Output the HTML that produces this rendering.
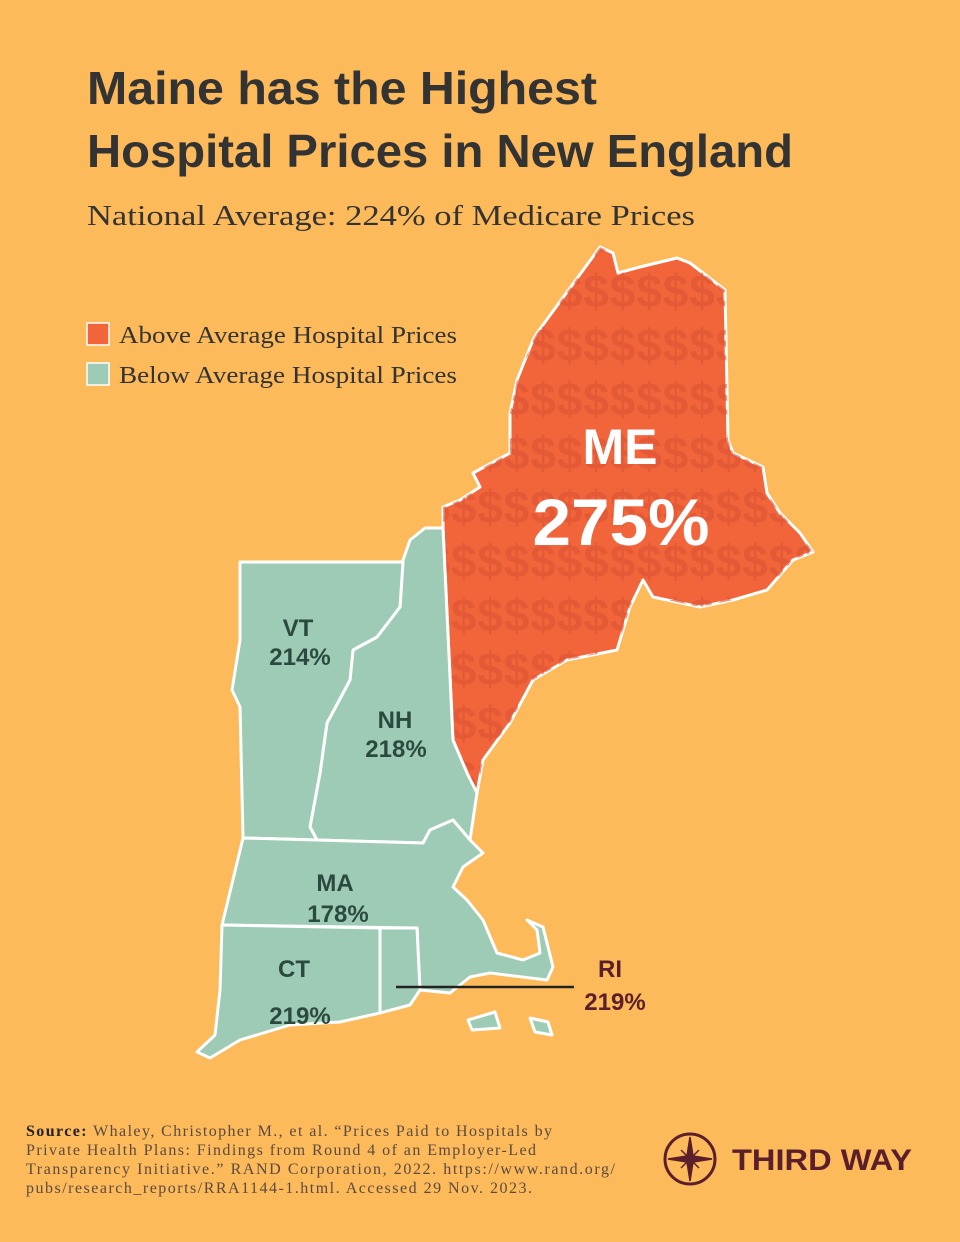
<!DOCTYPE html>
<html><head><meta charset="utf-8"><style>
body{margin:0;}
#c{position:relative;width:960px;height:1242px;background:#FDBA5A;overflow:hidden;font-family:"Liberation Sans",sans-serif;}
</style></head><body><div id="c">
<svg width="960" height="1242" style="position:absolute;left:0;top:0">
<defs>
<pattern id="d" x="0" y="262" width="26.5" height="54" patternUnits="userSpaceOnUse">
<text x="13" y="45" font-family="Liberation Sans" font-weight="bold" font-size="46" fill="#DC5434" text-anchor="middle">$</text>
</pattern>
</defs>
<text x="87" y="104" font-family="Liberation Sans" font-weight="bold" font-size="46" fill="#333" textLength="510" lengthAdjust="spacingAndGlyphs">Maine has the Highest</text>
<text x="87" y="167" font-family="Liberation Sans" font-weight="bold" font-size="46" fill="#333" textLength="706" lengthAdjust="spacingAndGlyphs">Hospital Prices in New England</text>
<text x="87" y="225" font-family="Liberation Serif" font-size="29" fill="#333" textLength="608" lengthAdjust="spacingAndGlyphs">National Average: 224% of Medicare Prices</text>
<rect x="87" y="323" width="22" height="22" fill="#F2643A" stroke="#fff" stroke-width="1.5"/>
<text x="119" y="343" font-family="Liberation Serif" font-size="24" fill="#333" textLength="338" lengthAdjust="spacingAndGlyphs">Above Average Hospital Prices</text>
<rect x="87" y="363" width="22" height="22" fill="#9ECBB5" stroke="#fff" stroke-width="1.5"/>
<text x="119" y="383" font-family="Liberation Serif" font-size="24" fill="#333" textLength="338" lengthAdjust="spacingAndGlyphs">Below Average Hospital Prices</text>
<g stroke="#fff" stroke-width="3" stroke-linejoin="round">
<path d="M600,247 L613,253 L618,273 L640,267 L677,258 L690,263 L725,290 L728,440 L733,453 L763,467 L767,493 L780,513 L800,533 L813,552 L793,560 L767,590 L733,600 L700,607 L653,597 L643,580 L630,607 L617,650 L567,660 L533,680 L510,723 L483,760 L477,793 L467,773 L453,740 L443,528 L443,507 L460,500 L480,487 L473,473 L510,453 L510,413 L517,380 L533,340 L537,333 Z" fill="#F2643A"/>
<path d="M600,247 L613,253 L618,273 L640,267 L677,258 L690,263 L725,290 L728,440 L733,453 L763,467 L767,493 L780,513 L800,533 L813,552 L793,560 L767,590 L733,600 L700,607 L653,597 L643,580 L630,607 L617,650 L567,660 L533,680 L510,723 L483,760 L477,793 L467,773 L453,740 L443,528 L443,507 L460,500 L480,487 L473,473 L510,453 L510,413 L517,380 L533,340 L537,333 Z" fill="url(#d)" stroke="none" opacity="0.6"/>
<path d="M443,528 L453,740 L467,773 L477,793 L470,840 L453,820 L430,830 L423,843 L317,840 L310,827 L320,773 L327,723 L350,680 L353,650 L377,637 L400,607 L403,560 L410,540 L425,528 Z" fill="#9ECBB5"/>
<path d="M240,562 L403,562 L400,607 L377,637 L353,650 L350,680 L327,723 L320,773 L310,827 L317,840 L243,838 L240,707 L232,690 L240,640 Z" fill="#9ECBB5"/>
<path d="M243,838 L317,840 L423,843 L430,830 L453,820 L470,840 L483,853 L463,867 L453,887 L467,900 L483,920 L497,953 L523,960 L540,953 L537,930 L527,920 L543,927 L553,967 L547,980 L490,973 L470,977 L450,993 L420,990 L417,928 L222,925 Z" fill="#9ECBB5"/>
<path d="M380,928 L417,928 L420,990 L410,1005 L380,1013 Z" fill="#9ECBB5"/>
<path d="M222,925 L380,928 L380,1013 L340,1022 L290,1025 L240,1040 L210,1058 L197,1052 L215,1035 L220,990 Z" fill="#9ECBB5"/>
<path d="M468,1020 L495,1012 L500,1028 L472,1030 Z M530,1018 L548,1022 L552,1035 L535,1032 Z" fill="#9ECBB5"/>
</g>
<line x1="396" y1="987" x2="574" y2="987" stroke="#222" stroke-width="2.5"/>
<g font-family="Liberation Sans" font-weight="bold" text-anchor="middle">
<text x="620" y="464" font-size="50" fill="#fff">ME</text>
<text x="621" y="545" font-size="66" fill="#fff" textLength="177" lengthAdjust="spacingAndGlyphs">275%</text>
<g fill="#2B4A3F" font-size="24">
<text x="298" y="636">VT</text><text x="300" y="665">214%</text>
<text x="395" y="728">NH</text><text x="396" y="757">218%</text>
<text x="335" y="891">MA</text><text x="338" y="922">178%</text>
<text x="294" y="977">CT</text><text x="300" y="1024">219%</text>
</g>
<g fill="#5A1F2A" font-size="24">
<text x="610" y="977">RI</text><text x="615" y="1010">219%</text>
</g>
</g>
<g font-family="Liberation Serif" font-size="16" fill="#5a4a40" lengthAdjust="spacingAndGlyphs">
<text x="26" y="1136" textLength="526"><tspan font-weight="bold" fill="#222">Source:</tspan> Whaley, Christopher M., et al. “Prices Paid to Hospitals by</text>
<text x="26" y="1155" textLength="510">Private Health Plans: Findings from Round 4 of an Employer-Led</text>
<text x="26" y="1174" textLength="589">Transparency Initiative.” RAND Corporation, 2022. https://www.rand.org/</text>
<text x="26" y="1193" textLength="506">pubs/research_reports/RRA1144-1.html. Accessed 29 Nov. 2023.</text>
</g>
<circle cx="690" cy="1159" r="25" fill="none" stroke="#5A1F2A" stroke-width="3"/>
<path d="M690,1137 L693,1156 L712,1159 L693,1162 L690,1181 L687,1162 L668,1159 L687,1156 Z M681,1150 L699,1168 M699,1150 L681,1168" fill="#5A1F2A" stroke="#5A1F2A" stroke-width="1.5"/>
<text x="732" y="1170" font-family="Liberation Sans" font-weight="bold" font-size="30" fill="#5A1F2A" textLength="180" lengthAdjust="spacingAndGlyphs">THIRD WAY</text>
</svg>
</div></body></html>
